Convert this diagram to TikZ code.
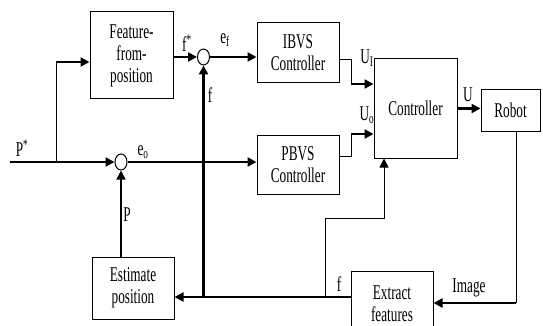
\documentclass[tikz,border=0pt]{standalone}
\usepackage{fontspec}
\setmainfont{Liberation Serif}[FakeStretch=0.63]
\usetikzlibrary{arrows.meta,shapes.geometric,calc}
\begin{document}
\begin{tikzpicture}[x=1pt,y=-1pt,
  box/.style={draw, line width=1pt, align=center, inner sep=0pt, font=\fontsize{21}{22}\selectfont},
  sumc/.style={draw, ellipse, line width=1pt, minimum width=12pt, minimum height=16pt, inner sep=0pt},
  thk/.style={line width=2.6pt},
  thn/.style={line width=0.9pt},
  med/.style={line width=1.5pt},
  arr/.style={-{Triangle[length=9pt,width=9pt]}},
  lbl/.style={font=\fontsize{21}{22}\selectfont, inner sep=0pt}]
\clip (0,0) rectangle (543,326);
\fill[white] (0,0) rectangle (543,326);
% boxes
\node[box, minimum width=83pt, minimum height=87pt] (ffp) at (131.5,55.5) {Feature-\\from-\\position};
\node[box, minimum width=82pt, minimum height=60pt] (ibvs) at (298,53) {IBVS\\Controller};
\node[box, minimum width=82pt, minimum height=59pt] (pbvs) at (298,164.5) {PBVS\\Controller};
\node[box, minimum width=83pt, minimum height=99pt] (ctrl) at (415.5,108.5) {Controller};
\node[box, minimum width=59pt, minimum height=41pt] (robot) at (510.5,110.5) {Robot};
\node[box, minimum width=82pt, minimum height=65pt] (ext) at (392,303.5) {Extract\\features};
\node[box, minimum width=82pt, minimum height=62pt] (est) at (133,288) {Estimate\\position};
% summing junctions
\node[sumc] (s1) at (203.5,57) {};
\node[sumc] (s2) at (121,162) {};
% coordinates
\coordinate (pin) at (10,162);
\coordinate (br1) at (56,162);
\coordinate (br2) at (56,62);
\coordinate (ui1) at (351,59);
\coordinate (ui2) at (351,84);
\coordinate (uo1) at (351,156);
\coordinate (uo2) at (351,134);
\coordinate (rb) at (516,303);
\coordinate (fj) at (203.5,297);
\coordinate (fb) at (325,297);
\coordinate (fc) at (384,218);
% connectors
\draw[thk,arr] (pin) -- (s2.west);
\draw[thn] (br1) -- (br2);
\draw[thk,arr] (br2) -- (br2 -| ffp.west);
\draw[thk,arr] (ffp.east |- s1) -- (s1.west);
\draw[thk,arr] (s1.east) -- (s1.east -| ibvs.west);
\draw[thk,arr] (s2.east) -- (s2.east -| pbvs.west);
\draw[thn] (ibvs.east |- ui1) -- (ui1) -- (ui2);
\draw[thk,arr] (ui2) -- (ui2 -| ctrl.west);
\draw[thn] (pbvs.east |- uo1) -- (uo1) -- (uo2);
\draw[thk,arr] (uo2) -- (uo2 -| ctrl.west);
\draw[thk,arr] (ctrl.east) -- (ctrl.east -| robot.west);
\draw[thn] (robot.south -| rb) -- (rb);
\draw[thk,arr] (rb) -- (rb -| ext.east);
\draw[thk] (fb -| ext.west) -- (fj);
\draw[thk,arr] (fj) -- (fj -| est.east);
\draw[thk,arr] (fj) -- (s1.south);
\draw[thn,arr] (fb) |- (fc) -- (fc |- ctrl.south);
\draw[med,arr] (s2 |- est.north) -- (s2.south);
% labels
\node[lbl] (lPs) at (22,148) {P\textsuperscript{*}};
\node[lbl] (lfs) at (187,43) {f\textsuperscript{*}};
\node[lbl] (lef) at (225,40) {e\textsubscript{f}};
\node[lbl] (lf1) at (210,95) {f};
\node[lbl] (leo) at (143,152) {e\textsubscript{o}};
\node[lbl] (lP) at (127,215) {P};
\node[lbl] (lUI) at (367,58) {U\textsubscript{I}};
\node[lbl] (lUo) at (367,115) {U\textsubscript{o}};
\node[lbl] (lU) at (468,95) {U};
\node[lbl] (lf2) at (339,284) {f};
\node[lbl] (lim) at (469,288) {Image};
\end{tikzpicture}
\end{document}
